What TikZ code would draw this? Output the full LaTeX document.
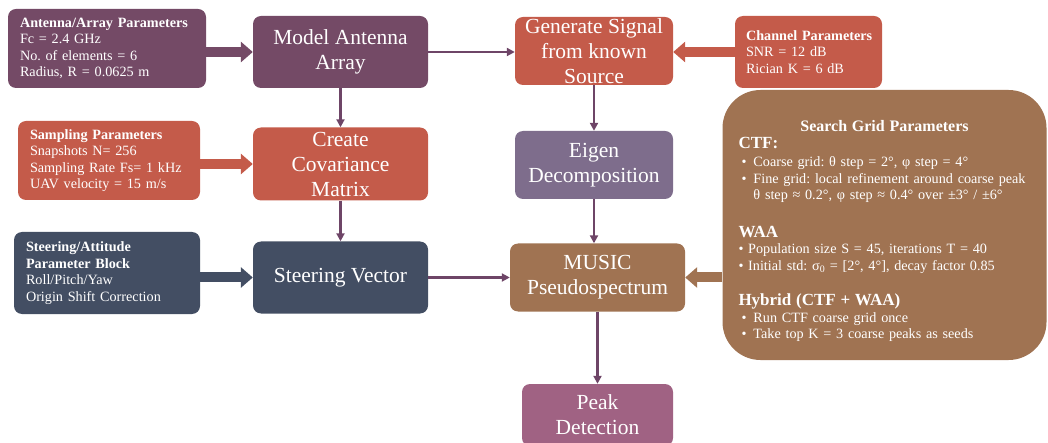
\documentclass[tikz,border=0pt]{standalone}
\usepackage{fontspec}
\setmainfont{Liberation Serif}
\usetikzlibrary{arrows.meta}
\definecolor{antc}{HTML}{744A66}
\definecolor{redc}{HTML}{C45B4A}
\definecolor{slatec}{HTML}{434E63}
\definecolor{eigc}{HTML}{7E6D8C}
\definecolor{brownc}{HTML}{A07352}
\definecolor{peakc}{HTML}{A06283}
\definecolor{flowc}{HTML}{6E4567}
\tikzset{
  stage/.style={rounded corners=8pt, text=white, align=center, inner sep=0pt,
    font=\fontsize{21.5}{25}\selectfont},
  param/.style={rounded corners=8pt, text=white, align=left, inner xsep=12pt,
    inner ysep=0pt, font=\fontsize{14.2}{16.5}\selectfont},
  flow/.style={draw=flowc, line width=2.4pt, -{Triangle[width=8pt,length=8pt]}},
  feed/.style={line width=10pt, -{Triangle[width=20pt,length=12pt]}},
}
\newcommand{\gitem}{\hspace*{3pt}\textbullet\hspace{7pt}}
\newcommand{\gskip}{\hspace*{3pt}\phantom{\textbullet}\hspace{7pt}}
\newcommand{\ghead}[1]{{\fontsize{17}{19}\selectfont\bfseries #1}}

\begin{document}
\frenchspacing
\begin{tikzpicture}[x=1pt,y=-1pt]
  \useasboundingbox (0,0) rectangle (1048,443);
  % left column: parameter blocks
  \node[param, fill=antc, text width=174pt, minimum height=79pt] (ant) at (107,48.5)
    {\textbf{Antenna/Array Parameters}\\Fc = 2.4 GHz\\No. of elements = 6\\Radius, R = 0.0625 m};
  \node[param, fill=redc, text width=158pt, minimum height=79pt] (samp) at (109,160.5)
    {\textbf{Sampling Parameters}\\Snapshots N= 256\\Sampling Rate Fs= 1 kHz\\UAV velocity = 15 m/s};
  \node[param, fill=slatec, text width=162pt, minimum height=82pt] (att) at (107,273)
    {\textbf{Steering/Attitude}\\\textbf{Parameter Block}\\Roll/Pitch/Yaw\\Origin Shift Correction};
  % middle column
  \node[stage, fill=antc, minimum width=175pt, minimum height=72pt] (model) at (340.5,52)
    {Model Antenna\\Array};
  \node[stage, fill=redc, minimum width=175pt, minimum height=73pt] (cov) at (340.5,164)
    {Create\\Covariance\\Matrix};
  \node[stage, fill=slatec, minimum width=175pt, minimum height=72pt] (steer) at (340.5,277.5)
    {Steering Vector};
  % right column
  \node[stage, fill=redc, minimum width=158pt, minimum height=68pt] (gen) at (594,51)
    {Generate Signal\\from known\\Source};
  \node[stage, fill=eigc, minimum width=158pt, minimum height=68pt] (eig) at (594,165)
    {Eigen\\Decomposition};
  \node[stage, fill=brownc, minimum width=175pt, minimum height=68pt] (music) at (597.5,277.5)
    {MUSIC\\Pseudospectrum};
  \node[stage, fill=peakc, minimum width=151pt, minimum height=62pt] (peak) at (597.5,415)
    {Peak\\Detection};
  \node[param, fill=redc, text width=133pt, inner xsep=7pt, minimum height=72pt] (chan) at (808.5,52)
    {\hspace*{4pt}\textbf{Channel Parameters}\\\hspace*{4pt}SNR = 12 dB\\\hspace*{4pt}Rician K = 6 dB};
  \node[param, fill=brownc, rounded corners=38pt, text width=292pt, minimum height=270pt,
    inner xsep=16pt] (grid) at (884.5,225)
    {{\centering\fontsize{16}{17}\selectfont\rule{0pt}{24pt}\bfseries Search Grid Parameters\par}
     \ghead{CTF:}\\[2pt]
     \gitem Coarse grid: θ step = 2°, φ step = 4°\\
     \gitem Fine grid: local refinement around coarse peak\\
     \gskip θ step ≈ 0.2°, φ step ≈ 0.4° over ±3° / ±6°\\[21pt]
     \ghead{WAA}\\
     \textbullet\ Population size S = 45, iterations T = 40\\
     \textbullet\ Initial std: σ\textsubscript{0} = [2°, 4°], decay factor 0.85\\[19pt]
     \ghead{Hybrid (CTF + WAA)}\\
     \gitem Run CTF coarse grid once\\
     \gitem Take top K = 3 coarse peaks as seeds};
  % parameter feeds
  \draw[feed, antc] (ant.east |- model.west) -- (model.west);
  \draw[feed, redc] (samp.east |- cov.west) -- (cov.west);
  \draw[feed, slatec] (att.east |- steer.west) -- (steer.west);
  \draw[feed, redc] (chan.west) -- (chan.west -| gen.east);
  \draw[feed, brownc] (grid.west |- music.east) -- (music.east);
  % processing flow
  \draw[flow] (model.east) -- (model.east -| gen.west);
  \draw[flow] (model.south) -- (cov.north);
  \draw[flow] (cov.south) -- (steer.north);
  \draw[flow] (gen.south) -- (gen.south |- eig.north);
  \draw[flow] (eig.south) -- (eig.south |- music.north);
  \draw[flow] (steer.east) -- (music.west);
  \draw[flow] (music.south) -- (music.south |- peak.north);
\end{tikzpicture}
\end{document}
